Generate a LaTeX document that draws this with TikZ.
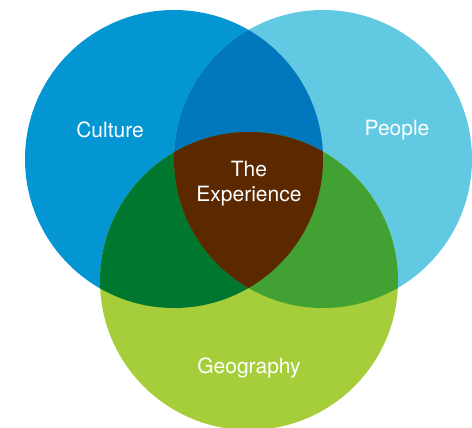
\documentclass[tikz,border=0pt]{standalone}
\usepackage{fontspec}
\setmainfont{TeX Gyre Heros}
\usepackage{tikz}
\usetikzlibrary{
        positioning
    }
\definecolor{culturecol}{RGB}{3,150,211}
\definecolor{peoplecol}{RGB}{98,201,226}
\definecolor{geocol}{RGB}{166,206,58}
\definecolor{cpcol}{RGB}{1,120,189}
\definecolor{cgcol}{RGB}{0,119,47}
\definecolor{pgcol}{RGB}{65,162,51}
\definecolor{allcol}{RGB}{91,40,0}
\tikzset{set/.style={circle,inner sep=0pt,minimum size=298pt}}
\tikzset{setname/.style={text=white,font=\fontsize{21}{25}\selectfont,align=center}}

\begin{document}
\begin{tikzpicture}[x=1pt,y=-1pt]
                \useasboundingbox (0,0) rectangle (472,428);
                \node[set,fill=culturecol] (culture) at (174,159) {};
                \node[set,fill=peoplecol]  (people)  at (323,159) {};
                \node[set,fill=geocol]     (geo)     at (249,281) {};
                % overlaps
                \begin{scope}
                    \clip (culture.center) circle (149);
                    \fill[cpcol] (people.center) circle (149);
                    \fill[cgcol] (geo.center) circle (149);
                \end{scope}
                \begin{scope}
                    \clip (people.center) circle (149);
                    \fill[pgcol] (geo.center) circle (149);
                \end{scope}
                \begin{scope}
                    \clip (culture.center) circle (149);
                    \clip (people.center) circle (149);
                    \fill[allcol] (geo.center) circle (149);
                \end{scope}
                % labels
                \node[setname] (culturetext) at (110,130) {Culture};
                \node[setname] (peopletext)  at (397,130) {People};
                \node[setname] (exptext)     at (249,184) {The\\Experience};
                \node[setname] (geotext)     at (249,368) {Geography};
            \end{tikzpicture}
\end{document}
